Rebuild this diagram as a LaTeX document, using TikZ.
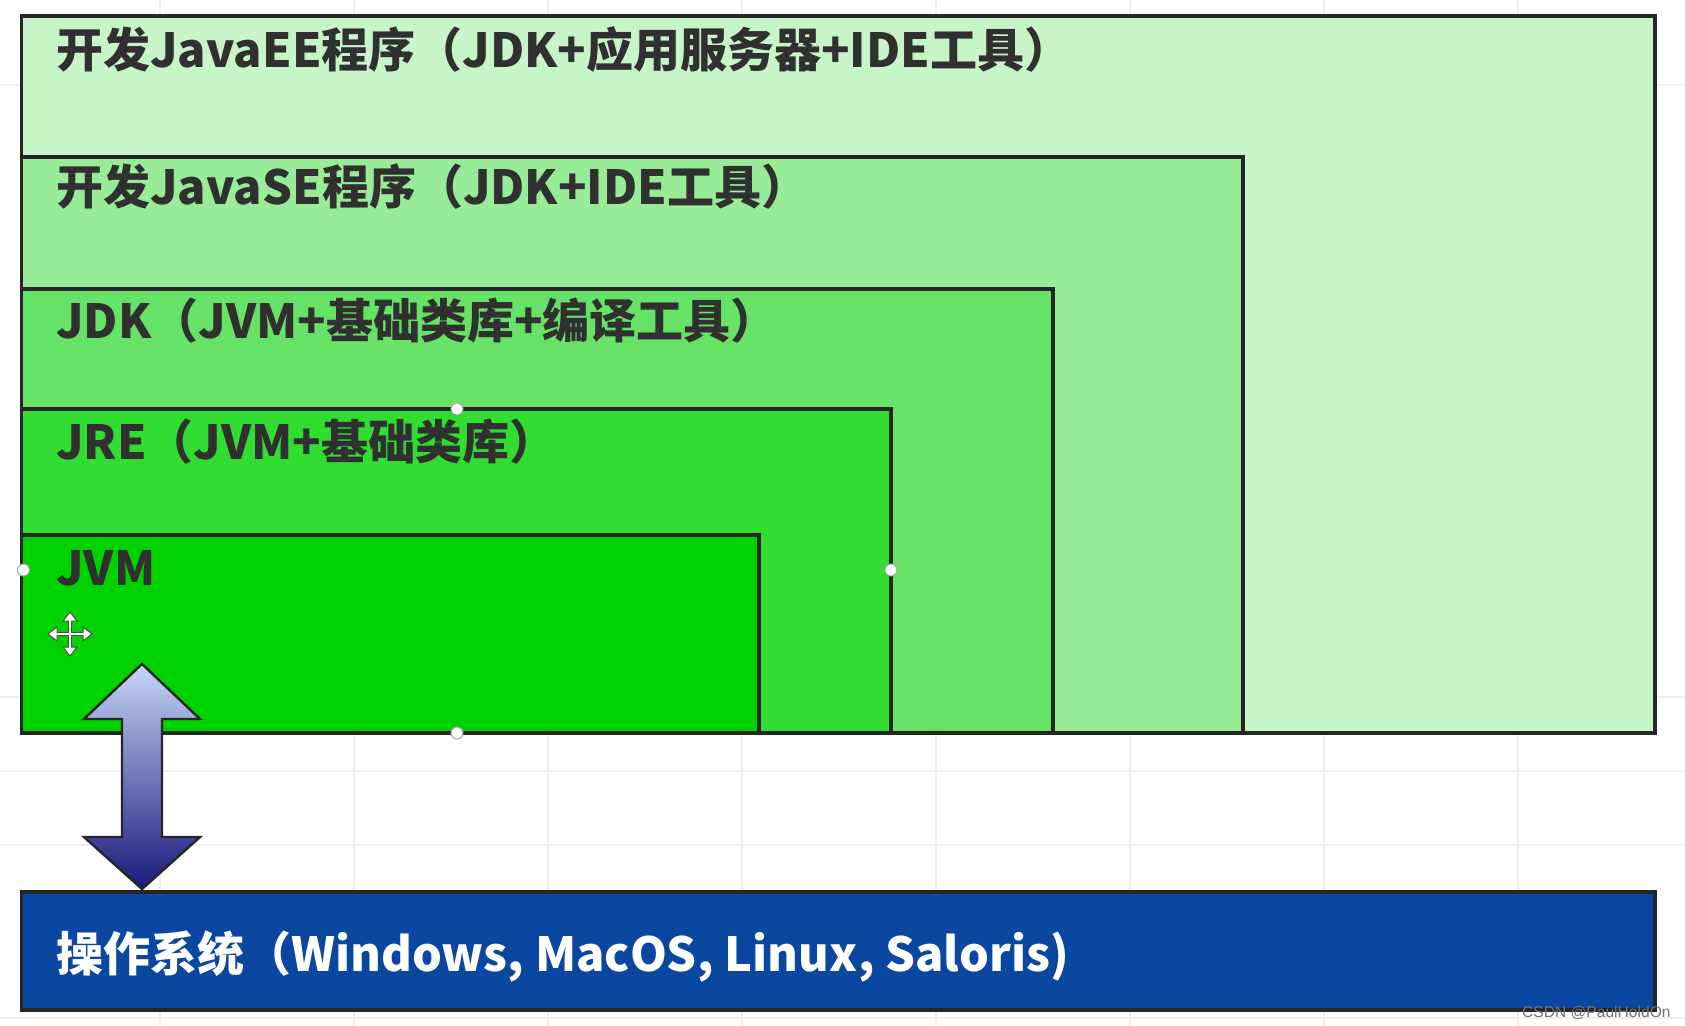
\documentclass[tikz,border=0pt]{standalone}
\usepackage{fontspec}
\newfontfamily\cjk{Noto Sans CJK SC}
\newfontfamily\wmfont{Liberation Sans}
\definecolor{eeC}{HTML}{C8F5C8}
\definecolor{seC}{HTML}{98EC98}
\definecolor{jdkC}{HTML}{66E266}
\definecolor{jreC}{HTML}{30DD30}
\definecolor{jvmC}{HTML}{00D200}
\definecolor{osC}{HTML}{0A47A0}
\definecolor{edgeC}{HTML}{262626}
\definecolor{txtC}{HTML}{303030}
\definecolor{gridC}{HTML}{EFEFEF}
\definecolor{arrTop}{HTML}{C8D6F6}
\definecolor{arrBot}{HTML}{1A197C}
\begin{document}
\begin{tikzpicture}[x=0.5pt,y=-0.5pt,
  layerbox/.style={draw=edgeC,line width=1.7pt},
  lbl/.style={anchor=base west,inner sep=0pt,text=txtC,font=\cjk\bfseries\fontsize{23.5}{28}\selectfont},
  oslbl/.style={anchor=base west,inner sep=0pt,text=white,font=\cjk\bfseries\fontsize{23.5}{28}\selectfont},
  handle/.style={circle,draw=gray!70,fill=white,line width=0.5pt,inner sep=0pt,minimum size=6pt}]
\useasboundingbox (0,0) rectangle (1685,1026);
\fill[white] (0,0) rectangle (1685,1026);
% faint grid
\foreach \gx in {160,354,548,742,936,1130,1324,1518}
  \draw[gridC,line width=1pt] (\gx,0) -- (\gx,1026);
\foreach \gy in {85,697,771,845,1018}
  \draw[gridC,line width=1pt] (0,\gy) -- (1685,\gy);
% nested layers
\draw[layerbox,fill=eeC] (21.5,16) rectangle (1655,733);
\draw[layerbox,fill=seC] (21.5,157) rectangle (1243,733);
\draw[layerbox,fill=jdkC] (21.5,289) rectangle (1053,733);
\draw[layerbox,fill=jreC] (21.5,409) rectangle (891,733);
\draw[layerbox,fill=jvmC] (21.5,535) rectangle (759,733);
% OS box
\draw[layerbox,fill=osC] (21.5,892) rectangle (1655,1010);
% labels
\node[lbl] (ee) at (56,68) {开发JavaEE程序（JDK+应用服务器+IDE工具）};
\node[lbl] (se) at (56,205) {开发JavaSE程序（JDK+IDE工具）};
\node[lbl] (jdk) at (56,339) {JDK（JVM+基础类库+编译工具）};
\node[lbl] (jre) at (56,459) {JRE（JVM+基础类库）};
\node[lbl] (jvm) at (56,585) {JVM};
\node[oslbl] (os) at (56,971) {操作系统（Windows, MacOS, Linux, Saloris)};
% double arrow
\shade[top color=arrTop,bottom color=arrBot,draw=edgeC,line width=1.2pt,line join=miter]
  (142,664) -- (200,719) -- (162,719) -- (162,837) -- (200,837) -- (142,889)
  -- (84,837) -- (122,837) -- (122,719) -- (84,719) -- cycle;
% selection handles
\node[handle] (h1) at (457,409) {};
\node[handle] (h2) at (23.5,570) {};
\node[handle] (h3) at (891,570) {};
\node[handle] (h4) at (457,733) {};
% move cursor
\begin{scope}[shift={(70,634)}]
  \foreach \r in {0,90,180,270}{
    \draw[rotate=\r,black!70,line width=1.6pt,line cap=round] (0,0) -- (18,0);
    \filldraw[rotate=\r,draw=black!70,fill=white,line width=0.5pt] (22,0) -- (13,-7) -- (13,7) -- cycle;
  }
  \foreach \r in {0,90}
    \draw[rotate=\r,white,line width=0.6pt] (-14,0) -- (14,0);
\end{scope}
% watermark
\node[anchor=base east,inner sep=0pt,text=black!55,font=\wmfont\fontsize{7.8}{9}\selectfont] (wm) at (1671,1017) {CSDN @PaulHoldOn};
\end{tikzpicture}
\end{document}
